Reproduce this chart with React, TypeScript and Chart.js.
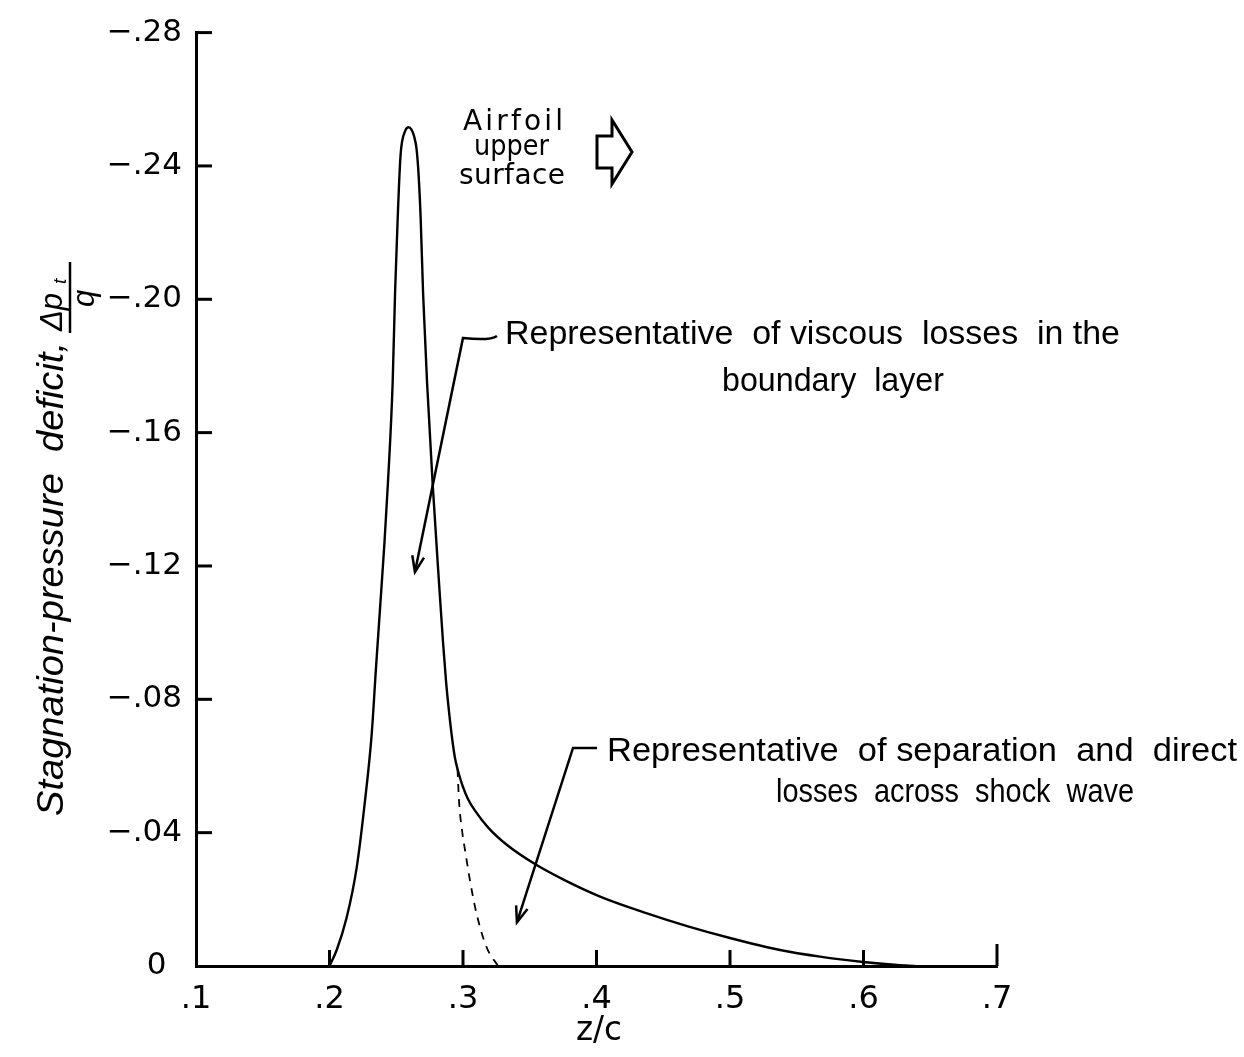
import { useEffect, useRef } from 'react';
import { Chart, registerables } from 'chart.js';

Chart.register(...registerables);

// z/c positions and stagnation-pressure deficit values (main solid curve)
const mainX = [0.2, 0.2054, 0.2129, 0.2204, 0.2266, 0.2316, 0.2348, 0.2382, 0.2412, 0.2438, 0.2473, 0.2491, 0.2513, 0.2521, 0.2533, 0.2543, 0.2569, 0.2591, 0.2613, 0.2633, 0.2652, 0.2667, 0.2683, 0.2701, 0.2731, 0.2772, 0.282, 0.285, 0.2873, 0.2895, 0.2921, 0.294, 0.2959, 0.2978, 0.3, 0.3037, 0.309, 0.3187, 0.333, 0.3539, 0.3779, 0.4041, 0.4378, 0.4685, 0.5, 0.5375, 0.5674, 0.5996, 0.6251, 0.6386];
const mainY = [0, -0.0048, -0.0146, -0.0296, -0.0496, -0.0695, -0.0893, -0.1093, -0.1272, -0.1451, -0.1749, -0.2018, -0.2266, -0.2346, -0.2436, -0.2472, -0.2507, -0.2516, -0.251, -0.249, -0.2451, -0.2376, -0.2242, -0.2018, -0.1749, -0.1451, -0.1152, -0.0973, -0.0854, -0.0764, -0.0675, -0.0624, -0.0591, -0.0564, -0.0537, -0.0501, -0.0466, -0.0416, -0.0363, -0.0306, -0.0254, -0.0206, -0.0158, -0.0119, -0.0084, -0.0048, -0.0028, -0.0012, -0.0003, 0];

// dashed branch (viscous losses only)
const dashX = [0.2959, 0.297, 0.2993, 0.3022, 0.3052, 0.3101, 0.3176, 0.3262];
const dashY = [-0.0591, -0.0496, -0.0406, -0.0331, -0.0257, -0.0158, -0.0057, 0];

const xTicks = [0.1, 0.2, 0.3, 0.4, 0.5, 0.6, 0.7];
const yTicks = [0, -0.04, -0.08, -0.12, -0.16, -0.2, -0.24, -0.28];

const xTitle = 'z/c';
const yTitle = 'Stagnation-pressure  deficit,';
const noteViscous = ['Representative  of viscous  losses  in the', 'boundary  layer'];
const noteShock = ['Representative  of separation  and  direct', 'losses  across  shock  wave'];
const airfoilNote = ['Airfoil', 'upper', 'surface'];

const fmtX = (v: number) => '.' + Math.round(v * 10);
const fmtY = (v: number) => (Math.abs(v) < 1e-9 ? '0\u2002' : '\u2212.' + String(Math.round(Math.abs(v) * 100)).padStart(2, '0'));

function fitText(ctx: CanvasRenderingContext2D, text: string, x: number, y: number, w: number, font: string, align: 'left' | 'center' = 'left') {
  ctx.save();
  ctx.font = font;
  const m = ctx.measureText(text).width;
  const s = w / m;
  ctx.translate(x, y);
  ctx.scale(s, 1);
  ctx.textAlign = align;
  ctx.textBaseline = 'alphabetic';
  ctx.fillText(text, 0, 0);
  ctx.restore();
}

function spacedText(ctx: CanvasRenderingContext2D, text: string, x: number, y: number, w: number, font: string) {
  ctx.save();
  ctx.font = font;
  const m = ctx.measureText(text).width;
  const extra = (w - m) / Math.max(1, text.length - 1);
  let cx = x;
  ctx.textAlign = 'left';
  ctx.textBaseline = 'alphabetic';
  for (const ch of text) {
    ctx.fillText(ch, cx, y);
    cx += ctx.measureText(ch).width + extra;
  }
  ctx.restore();
}

function arrowHead(ctx: CanvasRenderingContext2D, fx: number, fy: number, tx: number, ty: number) {
  const a = Math.atan2(ty - fy, tx - fx);
  const L = 17;
  const sp = 0.36;
  ctx.beginPath();
  ctx.moveTo(tx - L * Math.cos(a - sp), ty - L * Math.sin(a - sp));
  ctx.lineTo(tx, ty);
  ctx.lineTo(tx - L * Math.cos(a + sp), ty - L * Math.sin(a + sp));
  ctx.stroke();
}

const decor = {
  id: 'decor',
  afterDraw(chart: any) {
    const ctx: CanvasRenderingContext2D = chart.ctx;
    const xs = chart.scales.x;
    const ys = chart.scales.y;
    const area = chart.chartArea;
    const P = (xv: number, yv: number) => [xs.getPixelForValue(xv), ys.getPixelForValue(yv)];
    ctx.save();
    ctx.strokeStyle = '#000';
    ctx.fillStyle = '#000';
    ctx.lineCap = 'butt';
    // inward ticks
    ctx.lineWidth = 3;
    yTicks.forEach((v) => {
      if (Math.abs(v) < 1e-9) return;
      const py = ys.getPixelForValue(v);
      ctx.beginPath();
      ctx.moveTo(area.left, py);
      ctx.lineTo(area.left + 16, py);
      ctx.stroke();
    });
    xTicks.forEach((v, i) => {
      if (i === 0) return;
      const px = xs.getPixelForValue(v);
      ctx.beginPath();
      ctx.moveTo(px, area.bottom);
      ctx.lineTo(px, area.bottom - (i === xTicks.length - 1 ? 22 : 16));
      ctx.stroke();
    });

    // x title
    fitText(ctx, xTitle, 599, 1040, 46, "34px 'DejaVu Sans'", 'center');

    // y title (rotated): u = -pageY, v = pageX
    ctx.save();
    ctx.rotate(-Math.PI / 2);
    fitText(ctx, yTitle, -816, 63, 474, "italic 36px 'Liberation Sans'", 'left');
    ctx.font = "italic 31px 'Liberation Sans'";
    ctx.textAlign = 'left';
    ctx.fillText('\u0394p', -331, 62);
    ctx.font = "italic 19px 'Liberation Sans'";
    ctx.fillText('t', -284, 66);
    ctx.font = "italic 31px 'Liberation Sans'";
    ctx.fillText('q', -307, 94);
    ctx.lineWidth = 2.5;
    ctx.beginPath();
    ctx.moveTo(-333, 70);
    ctx.lineTo(-262, 70);
    ctx.stroke();
    ctx.restore();

    // airfoil upper surface note
    spacedText(ctx, airfoilNote[0], 463, 130, 100, "28px 'DejaVu Sans'");
    fitText(ctx, airfoilNote[1], 474, 155, 75, "28px 'DejaVu Sans'");
    spacedText(ctx, airfoilNote[2], 459, 184, 106, "28px 'DejaVu Sans'");
    ctx.lineWidth = 3;
    ctx.lineJoin = 'miter';
    ctx.beginPath();
    ctx.moveTo(597, 136);
    ctx.lineTo(612, 136);
    ctx.lineTo(612, 120);
    ctx.lineTo(632, 152);
    ctx.lineTo(612, 184);
    ctx.lineTo(612, 168);
    ctx.lineTo(597, 168);
    ctx.closePath();
    ctx.stroke();

    // viscous note
    const noteFont = "33px 'Liberation Sans'";
    fitText(ctx, noteViscous[0], 505, 344, 615, noteFont);
    fitText(ctx, noteViscous[1], 722, 391, 222, noteFont);
    // shock note
    fitText(ctx, noteShock[0], 607, 761, 630, noteFont);
    fitText(ctx, noteShock[1], 776, 802, 358, noteFont);

    // leaders and arrows
    ctx.lineWidth = 2.5;
    const [c1x, c1y] = P(0.3, -0.1884);
    const [e1x, e1y] = P(0.3217, -0.1884);
    const [t1x, t1y] = P(0.264, -0.1182);
    ctx.beginPath();
    ctx.moveTo(e1x + 5, e1y - 2);
    ctx.quadraticCurveTo(e1x - 2, e1y + 3, c1x, c1y);
    ctx.lineTo(t1x, t1y);
    ctx.stroke();
    arrowHead(ctx, c1x, c1y, t1x, t1y);

    const [c2x, c2y] = P(0.3824, -0.0654);
    const [e2x, e2y] = P(0.4004, -0.0654);
    const [t2x, t2y] = P(0.3404, -0.0131);
    ctx.beginPath();
    ctx.moveTo(e2x, e2y);
    ctx.lineTo(c2x, c2y);
    ctx.lineTo(t2x, t2y);
    ctx.stroke();
    arrowHead(ctx, c2x, c2y, t2x, t2y);
    ctx.restore();
  },
};

export default function App() {
  const ref = useRef<HTMLCanvasElement | null>(null);
  useEffect(() => {
    if (!ref.current) return;
    const chart = new Chart(ref.current, {
      type: 'scatter',
      data: {
        datasets: [
          {
            data: mainX.map((x, i) => ({ x, y: mainY[i] })),
            showLine: true,
            borderColor: '#000',
            borderWidth: 2.4,
            pointRadius: 0,
            cubicInterpolationMode: 'monotone',
          },
          {
            data: dashX.map((x, i) => ({ x, y: dashY[i] })),
            showLine: true,
            borderColor: '#000',
            borderWidth: 1.8,
            borderDash: [8, 7],
            pointRadius: 0,
            cubicInterpolationMode: 'monotone',
          },
        ],
      },
      options: {
        animation: false,
        responsive: false,
        devicePixelRatio: 1,
        layout: { padding: { left: 0, top: 28, right: 247, bottom: 0 } },
        plugins: { legend: { display: false }, tooltip: { enabled: false } },
        scales: {
          x: {
            type: 'linear',
            min: 0.1,
            max: 0.7,
            afterBuildTicks: (s: any) => {
              s.ticks = xTicks.map((v) => ({ value: v }));
            },
            afterFit: (s: any) => {
              s.height = 91;
            },
            grid: { display: false, drawTicks: false },
            border: { display: true, color: '#000', width: 3 },
            ticks: {
              color: '#000',
              padding: 14,
              maxRotation: 0,
              autoSkip: false,
              font: { family: 'DejaVu Sans', size: 32 },
              callback: (v: any) => fmtX(Number(v)),
            },
          },
          y: {
            type: 'linear',
            min: -0.28,
            max: 0,
            reverse: true,
            afterBuildTicks: (s: any) => {
              s.ticks = yTicks.map((v) => ({ value: v }));
            },
            afterFit: (s: any) => {
              s.width = 196;
            },
            grid: { display: false, drawTicks: false },
            border: { display: true, color: '#000', width: 3 },
            ticks: {
              color: '#000',
              padding: 14,
              autoSkip: false,
              font: { family: 'DejaVu Sans', size: 31 },
              callback: (v: any) => fmtY(Number(v)),
            },
          },
        },
      },
      plugins: [decor],
    } as any);
    return () => chart.destroy();
  }, []);
  return (
    <div style={{ position: 'absolute', left: 0, top: 0, width: 1244, height: 1057, background: '#fff' }}>
      <canvas ref={ref} width={1244} height={1057} style={{ width: 1244, height: 1057, display: 'block' }} />
    </div>
  );
}
